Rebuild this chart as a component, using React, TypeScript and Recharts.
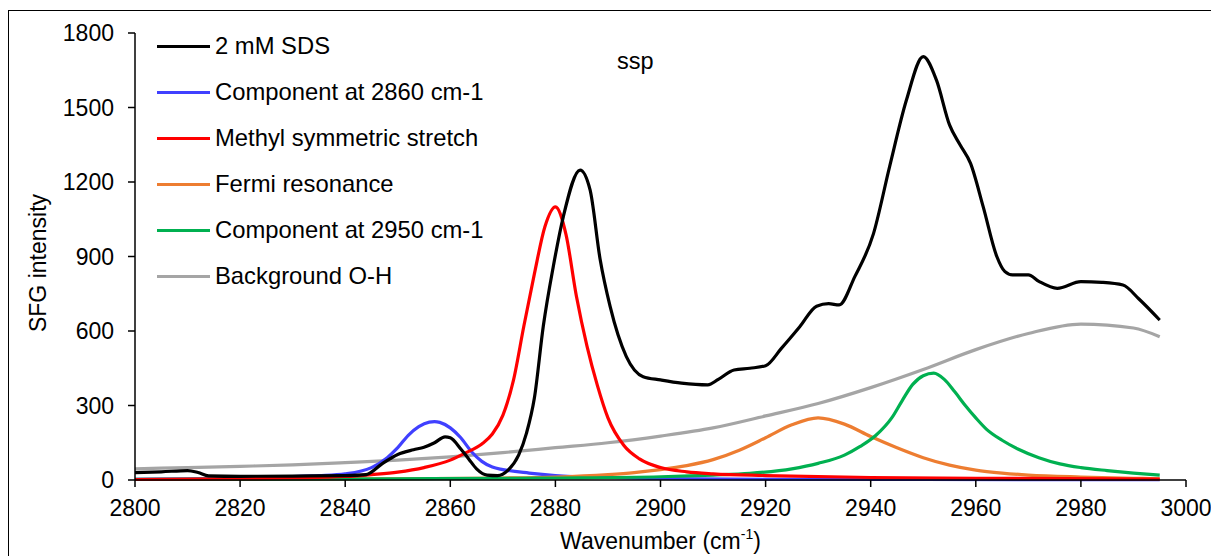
import { LineChart, Line, XAxis, YAxis, Legend } from 'recharts'

// wavenumber / intensity pairs, one pair of arrays per trace
const SDS_WN = [2800, 2805, 2810, 2812, 2814, 2820, 2830, 2840, 2844, 2847, 2850, 2853, 2855, 2857, 2859, 2860, 2862, 2863.5, 2865, 2867, 2869, 2871, 2873, 2874.5, 2876, 2877.7, 2879.6, 2881.5, 2884.7, 2886.6, 2888.5, 2890.4, 2893.5, 2896.7, 2900, 2904, 2909, 2911, 2914, 2917, 2920, 2923, 2926.5, 2929.7, 2932, 2934, 2937, 2940.5, 2943.6, 2946.8, 2950, 2952.5, 2955, 2957, 2959, 2961.4, 2964, 2965.5, 2967, 2970, 2972, 2975.5, 2980, 2984, 2988, 2991, 2995]
const SDS_INT = [30, 33, 38, 30, 17, 15, 16, 18, 22, 65, 103, 122, 132, 150, 174, 170, 125, 85, 45, 20, 18, 40, 100, 189, 330, 620, 860, 1060, 1248, 1168, 890, 700, 497, 416, 403, 390, 383, 405, 443, 450, 460, 530, 617, 700, 710, 705, 820, 990, 1262, 1530, 1705, 1611, 1430, 1350, 1275, 1101, 900, 840, 826, 826, 800, 772, 799, 796, 785, 730, 644]

const C2860_WN = [2800, 2810, 2820, 2830, 2835, 2840, 2845, 2848, 2850, 2852, 2854, 2856, 2857, 2858, 2860, 2862, 2864, 2866, 2868, 2870, 2875, 2880, 2890, 2900, 2920, 2950, 2995]
const C2860_INT = [3, 5, 8, 14, 18, 25, 50, 90, 130, 180, 215, 233, 235, 232, 210, 170, 115, 75, 52, 42, 28, 18, 10, 6, 3, 2, 1]

const METHYL_WN = [2800, 2820, 2830, 2840, 2845, 2850, 2855, 2860, 2863, 2866, 2868, 2870, 2872, 2874, 2876, 2878, 2880, 2882, 2884, 2886, 2888, 2890, 2893, 2896, 2900, 2905, 2910, 2920, 2940, 2960, 2995]
const METHYL_INT = [2, 5, 8, 14, 22, 32, 50, 80, 110, 145, 185, 260, 400, 620, 830, 1020, 1100, 990, 740, 540, 380, 250, 140, 85, 50, 33, 25, 18, 10, 7, 4]

const FERMI_WN = [2800, 2850, 2870, 2880, 2890, 2895, 2900, 2905, 2910, 2915, 2920, 2925, 2930, 2935, 2940, 2945, 2950, 2955, 2960, 2965, 2970, 2980, 2990, 2995]
const FERMI_INT = [2, 5, 8, 12, 22, 30, 42, 58, 82, 120, 170, 222, 250, 225, 175, 130, 90, 60, 40, 28, 20, 12, 7, 5]

const C2950_WN = [2800, 2850, 2880, 2900, 2910, 2917, 2925, 2930, 2935, 2938, 2941, 2944, 2946, 2948, 2950, 2952, 2954, 2956, 2958, 2960, 2962, 2965, 2968, 2972, 2976, 2980, 2985, 2990, 2995]
const C2950_INT = [3, 5, 8, 13, 20, 27, 45, 67, 100, 135, 180, 250, 320, 385, 420, 430, 405, 355, 300, 250, 205, 160, 125, 90, 65, 50, 38, 28, 20]

const OH_WN = [2800, 2810, 2820, 2830, 2840, 2850, 2860, 2870, 2880, 2890, 2900, 2910, 2920, 2930, 2940, 2950, 2960, 2970, 2980, 2990, 2995]
const OH_INT = [45, 50, 55, 61, 70, 80, 93, 110, 130, 150, 177, 210, 258, 308, 372, 445, 525, 590, 628, 612, 577]

const X_TICKS = [2800, 2820, 2840, 2860, 2880, 2900, 2920, 2940, 2960, 2980, 3000]
const Y_TICKS = [0, 300, 600, 900, 1200, 1500, 1800]

const FONT = '"Liberation Sans", Arial, sans-serif'

const toPoints = (xs: number[], ys: number[]) => xs.map((x, i) => ({ x, y: ys[i] }))

const SERIES = [
  { name: '2 mM SDS', color: '#000000', data: toPoints(SDS_WN, SDS_INT) },
  { name: 'Component at 2860 cm-1', color: '#4040FF', data: toPoints(C2860_WN, C2860_INT) },
  { name: 'Methyl symmetric stretch', color: '#FF0000', data: toPoints(METHYL_WN, METHYL_INT) },
  { name: 'Fermi resonance', color: '#ED7D31', data: toPoints(FERMI_WN, FERMI_INT) },
  { name: 'Component at 2950 cm-1', color: '#00B050', data: toPoints(C2950_WN, C2950_INT) },
  { name: 'Background O-H', color: '#A5A5A5', data: toPoints(OH_WN, OH_INT) },
]
// draw order: background first, data trace on top
const DRAW_ORDER = [5, 1, 3, 4, 2, 0]

function LegendBox() {
  return (
    <div style={{ fontFamily: FONT, fontSize: 23.8, color: '#000' }}>
      {SERIES.map(s => (
        <div key={s.name} style={{ display: 'flex', alignItems: 'center', height: 46 }}>
          <span style={{ display: 'inline-block', width: 53, height: 3, background: s.color, marginRight: 5 }} />
          <span>{s.name}</span>
        </div>
      ))}
    </div>
  )
}

function XLabel({ viewBox }: any) {
  const cx = viewBox.x + viewBox.width / 2
  return (
    <text x={cx} y={538} textAnchor="middle" fontFamily={FONT} fontSize={23} fill="#000">
      Wavenumber (cm<tspan fontSize={14} dy={-10}>-1</tspan><tspan dy={10}>)</tspan>
    </text>
  )
}

function YLabel() {
  return (
    <text x={37} y={252} transform="rotate(-90 37 252)" textAnchor="middle" fontFamily={FONT} fontSize={23} fill="#000">
      SFG intensity
    </text>
  )
}

export default function App() {
  const tick = { fontSize: 23, fill: '#000', fontFamily: FONT }
  return (
    <div style={{ marginTop: 2, width: 1208, border: '1px solid #000', height: 548, background: '#fff' }}>
      <LineChart width={1208} height={546} margin={{ top: 22, right: 31, left: 0, bottom: 0 }}>
        <XAxis
          type="number"
          dataKey="x"
          domain={[2800, 3000]}
          ticks={X_TICKS}
          allowDataOverflow
          height={77}
          stroke="#000"
          strokeWidth={1.5}
          tickSize={7}
          tickMargin={13}
          tick={tick}
          label={<XLabel />}
        />
        <YAxis
          type="number"
          domain={[0, 1800]}
          ticks={Y_TICKS}
          width={126}
          stroke="#000"
          strokeWidth={1.5}
          tickSize={7}
          tickMargin={14}
          tick={tick}
          label={<YLabel />}
        />
        {DRAW_ORDER.map(i => {
          const s = SERIES[i]
          return (
            <Line
              key={s.name}
              data={s.data}
              dataKey="y"
              name={s.name}
              type="monotone"
              stroke={s.color}
              strokeWidth={3.2}
              dot={false}
              activeDot={false}
              isAnimationActive={false}
            />
          )
        })}
        <Legend
          layout="horizontal"
          align="center"
          verticalAlign="middle"
          content={() => <LegendBox />}
          wrapperStyle={{ position: 'absolute', left: 148, top: 12, width: 380 }}
        />
        <text x={608} y={58} fontFamily={FONT} fontSize={23.5} fill="#000">ssp</text>
      </LineChart>
    </div>
  )
}
